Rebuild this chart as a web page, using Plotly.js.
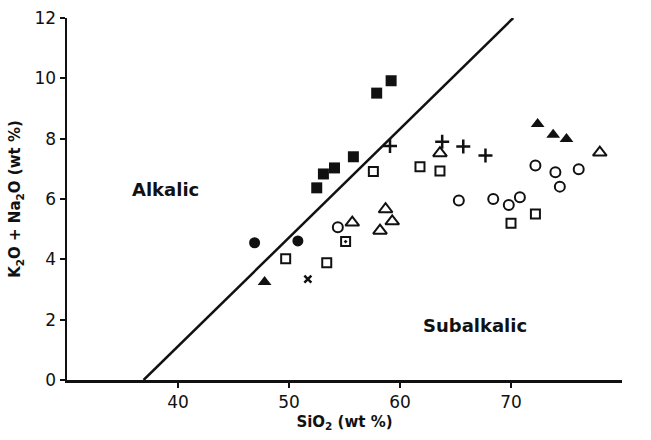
<!DOCTYPE html>
<html>
<head>
<meta charset="utf-8">
<script src="https://cdn.plot.ly/plotly-3.0.1.min.js"></script>
<style>html,body{margin:0;padding:0;background:#fff;}#chart{width:651px;height:440px;}</style>
</head>
<body>
<div id="chart"></div>
<script>
// Dividing line (alkalic / subalkalic)
const lineSiO2 = [36.9, 70.2];
const lineAlk = [0, 12];

// Data series (SiO2, K2O+Na2O)
const filledSquareX = [57.9, 59.2, 55.8, 54.1, 53.1, 52.5];
const filledSquareY = [9.51, 9.92, 7.40, 7.03, 6.83, 6.37];

const filledCircleX = [46.9, 50.8];
const filledCircleY = [4.55, 4.61];

const filledTriangleX = [47.8, 72.4, 73.8, 75.0];
const filledTriangleY = [3.25, 8.49, 8.13, 7.99];

const openSquareX = [49.7, 53.4, 57.6, 61.8, 63.6, 70.0, 72.2];
const openSquareY = [4.02, 3.89, 6.91, 7.07, 6.93, 5.20, 5.50];

const dotSquareX = [55.1];
const dotSquareY = [4.59];

const crossX = [51.7];
const crossY = [3.34];

const openCircleX = [54.4, 65.3, 68.4, 69.8, 70.8, 72.2, 74.0, 74.4, 76.1];
const openCircleY = [5.06, 5.95, 6.00, 5.80, 6.06, 7.11, 6.89, 6.41, 6.99];

const openTriangleX = [55.7, 58.7, 59.3, 58.2, 63.6, 78.0];
const openTriangleY = [5.22, 5.66, 5.26, 4.95, 7.52, 7.54];

const plusX = [59.1, 63.8, 65.7, 67.7];
const plusY = [7.76, 7.90, 7.74, 7.44];

const xTicks = [40, 50, 60, 70];
const yTicks = [0, 2, 4, 6, 8, 10, 12];

const ink = '#111';
function pts(x, y, symbol, size, lw) {
  return {x: x, y: y, type: 'scatter', mode: 'markers', cliponaxis: false,
    marker: {symbol: symbol, size: size, color: ink, line: {color: ink, width: lw}},
    hoverinfo: 'x+y', showlegend: false};
}

const traces = [
  {x: lineSiO2, y: lineAlk, type: 'scatter', mode: 'lines', line: {color: ink, width: 2.5}, showlegend: false, hoverinfo: 'skip'},
  pts(filledSquareX, filledSquareY, 'square', 11, 0),
  pts(filledCircleX, filledCircleY, 'circle', 11, 0),
  pts(filledTriangleX, filledTriangleY, 'triangle-up', 12, 0),
  pts(openSquareX, openSquareY, 'square-open', 9, 2),
  pts(dotSquareX, dotSquareY, 'square-open-dot', 9, 2),
  pts(crossX, crossY, 'x-thin-open', 7, 2.5),
  pts(openCircleX, openCircleY, 'circle-open', 10, 2),
  pts(openTriangleX, openTriangleY, 'triangle-up-open', 12, 2),
  pts(plusX, plusY, 'cross-thin-open', 10, 2.5)
];

const fam = 'DejaVu Sans, Liberation Sans, sans-serif';

const layout = {
  width: 651, height: 440,
  margin: {l: 67, r: 29, t: 18, b: 60},
  paper_bgcolor: '#fff', plot_bgcolor: '#fff',
  font: {family: fam, size: 15, color: ink},
  xaxis: {
    range: [30, 80], tickvals: xTicks, ticktext: xTicks.map(String),
    showgrid: false, zeroline: false, showline: true, linecolor: ink, linewidth: 2.5,
    ticks: 'outside', ticklen: 5, tickwidth: 2, tickcolor: ink,
    tickfont: {family: fam, size: 17, color: ink},
    title: {text: '<b>SiO<sub>2</sub> (wt %)</b>', font: {family: fam, size: 15, color: ink}, standoff: 6}
  },
  yaxis: {
    range: [0, 12], tickvals: yTicks, ticktext: yTicks.map(String),
    showgrid: false, zeroline: false, showline: true, linecolor: ink, linewidth: 2.5,
    ticks: 'outside', ticklen: 5, tickwidth: 2, tickcolor: ink,
    tickfont: {family: fam, size: 17, color: ink},
    title: {text: '<b>K<sub>2</sub>O + Na<sub>2</sub>O (wt %)</b>', font: {family: fam, size: 15, color: ink}, standoff: 10}
  },
  annotations: [
    {x: 38.9, y: 6.3, xref: 'x', yref: 'y', text: '<b>Alkalic</b>', showarrow: false, font: {family: fam, size: 18, color: ink}},
    {x: 66.8, y: 1.82, xref: 'x', yref: 'y', text: '<b>Subalkalic</b>', showarrow: false, font: {family: fam, size: 18, color: ink}}
  ]
};

Plotly.newPlot('chart', traces, layout, {displayModeBar: false, staticPlot: true});
</script>
</body>
</html>
